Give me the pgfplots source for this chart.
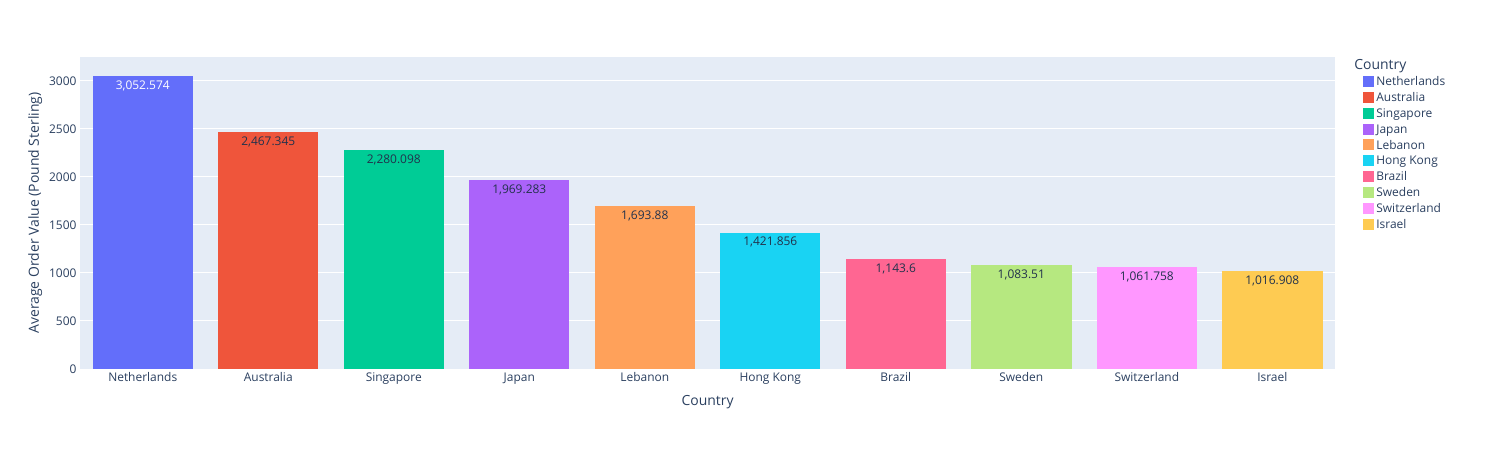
\documentclass[border=0pt]{standalone}
\usepackage{pgfplots}
\pgfplotsset{compat=1.18}
\usepackage{fontspec}
\setmainfont{Open Sans}
\definecolor{txt}{HTML}{2A3F5F}
\definecolor{bg}{HTML}{E5ECF6}
\definecolor{c1}{HTML}{636EFA}\definecolor{c2}{HTML}{EF553B}\definecolor{c3}{HTML}{00CC96}
\definecolor{c4}{HTML}{AB63FA}\definecolor{c5}{HTML}{FFA15A}\definecolor{c6}{HTML}{19D3F3}
\definecolor{c7}{HTML}{FF6692}\definecolor{c8}{HTML}{B6E880}\definecolor{c9}{HTML}{FF97FF}
\definecolor{c10}{HTML}{FECB52}
\begin{document}
\begin{tikzpicture}[x=1bp,y=1bp]
\path[use as bounding box] (-80bp,-81bp) rectangle (1411bp,369bp);
\begin{axis}[
  scale only axis, width=1255bp, height=312bp,
  xmin=-0.5, xmax=9.5, ymin=0, ymax=3250,
  axis background/.style={fill=bg}, axis line style={draw=none},
  major tick length=0pt,
  ymajorgrids, grid style={white, line width=1bp},
  ytick={0,500,...,3000},
  xtick={0,...,9},
  xticklabels={Netherlands,Australia,Singapore,Japan,Lebanon,Hong Kong,Brazil,Sweden,Switzerland,Israel},
  ticklabel style={font=\fontsize{12}{14}\selectfont, text=txt},
  /pgf/number format/assume math mode=true,
  /pgf/number format/1000 sep={},
  xlabel={Country}, ylabel={Average Order Value (Pound Sterling)},
  label style={font=\fontsize{14}{16}\selectfont, text=txt},
  xlabel style={yshift=-4bp}, ylabel style={yshift=0bp},
  ybar, bar width=0.8, bar shift=0pt,
  point meta=explicit symbolic,
  nodes near coords,
  every node near coord/.append style={anchor=north, font=\fontsize{12}{14}\selectfont, text=txt!80!black, yshift=-1bp},
  legend style={at={(1.02,1.005)}, anchor=north west, draw=none, fill=none,
    font=\fontsize{12}{14}\selectfont, text=txt, row sep=1.5bp, cells={anchor=west}},
  legend cell align=left,
  legend image code/.code={\fill[#1] (0bp,-5bp) rectangle (11bp,6bp);},
]
\addlegendimage{empty legend}\addlegendentry{\hspace{-22bp}\fontsize{14}{16}\selectfont Country}
\addplot[fill=c1,draw=none,every node near coord/.append style={text=white}] coordinates {(0,3052.574) [3,052.574]};\addlegendentry{Netherlands}
\addplot[fill=c2,draw=none] coordinates {(1,2467.345) [2,467.345]};\addlegendentry{Australia}
\addplot[fill=c3,draw=none] coordinates {(2,2280.098) [2,280.098]};\addlegendentry{Singapore}
\addplot[fill=c4,draw=none] coordinates {(3,1969.283) [1,969.283]};\addlegendentry{Japan}
\addplot[fill=c5,draw=none] coordinates {(4,1693.88) [1,693.88]};\addlegendentry{Lebanon}
\addplot[fill=c6,draw=none] coordinates {(5,1421.856) [1,421.856]};\addlegendentry{Hong Kong}
\addplot[fill=c7,draw=none] coordinates {(6,1143.6) [1,143.6]};\addlegendentry{Brazil}
\addplot[fill=c8,draw=none] coordinates {(7,1083.51) [1,083.51]};\addlegendentry{Sweden}
\addplot[fill=c9,draw=none] coordinates {(8,1061.758) [1,061.758]};\addlegendentry{Switzerland}
\addplot[fill=c10,draw=none] coordinates {(9,1016.908) [1,016.908]};\addlegendentry{Israel}
\end{axis}
\end{tikzpicture}
\end{document}
